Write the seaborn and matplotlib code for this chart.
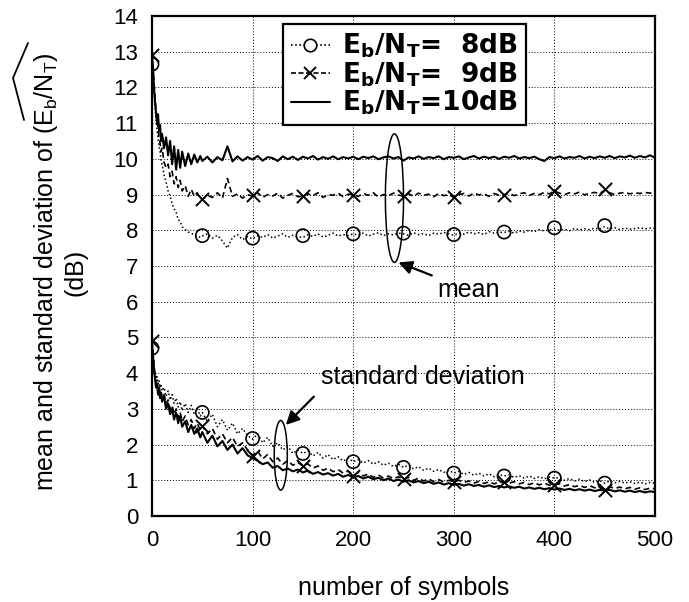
import numpy as np
import pandas as pd
import matplotlib
matplotlib.use("Agg")
import matplotlib.pyplot as plt
from matplotlib.lines import Line2D
from matplotlib.patches import Ellipse
import seaborn as sns

# ---------------- data ----------------
X_EARLY = [0, 1, 2, 3, 4, 5, 6, 7, 8, 9, 10, 12, 14, 16, 18, 20, 22, 24, 26, 28,
           30, 33, 36, 39, 42, 45, 48]
X_LATE = list(range(50, 501, 5))
SYMBOLS = X_EARLY + X_LATE

MEAN_10 = [12.85, 12.6, 12.0, 11.6, 11.3, 11.0, 11.25, 10.8, 10.95, 10.5, 10.7, 10.3, 10.6, 10.1,
           10.5, 9.85, 10.35, 9.7, 10.25, 9.75, 10.2, 9.8, 10.15, 9.85, 10.12, 9.9, 10.08,
           9.94, 10.06, 9.9, 10.05, 9.96, 10.35, 9.93, 10.07, 9.95, 10.05,
           9.98, 10.08, 9.95, 10.05, 10.02, 9.94, 10.07, 9.99, 10.06, 9.97,
           10.06, 10.01, 10.08, 9.98, 10.05, 10.0, 10.07, 9.99, 10.05, 10.01,
           10.06, 9.99, 10.06, 10.02, 10.07, 9.99, 10.04, 10.07, 10.01, 10.05,
           9.95, 10.04, 10.01, 10.07, 10.0, 10.05, 10.02, 10.07, 9.99, 10.05,
           10.03, 10.07, 9.99, 10.04, 10.08, 10.01, 10.06, 10.02, 10.06, 10.0,
           10.06, 10.03, 10.08, 10.01, 10.05, 10.02, 10.06, 9.99, 9.94, 10.05,
           10.02, 10.07, 10.01, 10.05, 10.03, 10.08, 10.01, 10.06, 10.02, 10.07,
           10.03, 10.08, 10.02, 10.07, 10.04, 10.09, 10.03, 10.08, 10.04, 10.1,
           10.03]

MEAN_9 = [12.9, 12.5, 12.1, 11.7, 11.35, 11.1, 10.85, 10.6, 10.45, 10.2, 10.3, 9.9, 9.75, 9.85,
          9.5, 9.65, 9.3, 9.5, 9.2, 9.4, 9.1, 9.25, 8.95, 9.15, 8.95, 9.05, 8.88,
          8.85, 8.98, 8.92, 9.05, 8.9, 9.45, 8.95, 9.02, 8.9, 9.0,
          8.95, 9.05, 8.92, 9.0, 8.96, 9.04, 8.9, 8.98, 9.03, 8.94,
          8.95, 9.02, 8.97, 9.05, 8.92, 9.0, 8.98, 9.04, 8.94, 9.01,
          9.0, 8.95, 9.03, 8.98, 9.05, 8.93, 9.0, 8.97, 9.04, 8.99,
          8.95, 9.02, 8.96, 9.04, 8.98, 9.01, 8.94, 9.03, 8.97, 9.0,
          8.92, 9.0, 9.03, 8.96, 9.04, 8.99, 9.02, 8.95, 9.03, 8.98,
          9.0, 9.04, 8.97, 9.02, 9.05, 8.98, 9.03, 9.0, 9.06, 9.02,
          9.1, 9.04, 9.0, 9.05, 9.02, 9.07, 8.99, 9.04, 9.06, 9.03,
          9.12, 9.05, 9.0, 9.04, 9.06, 9.02, 9.05, 9.03, 9.06, 9.04,
          9.05]

MEAN_8 = [12.65, 12.3, 11.9, 11.45, 11.1, 10.8, 10.6, 10.35, 10.2, 9.95, 9.85, 9.55, 9.35, 9.1,
          8.95, 8.75, 8.6, 8.5, 8.3, 8.25, 8.1, 8.02, 7.95, 7.92, 7.86, 7.84, 7.8,
          7.84, 7.9, 7.78, 7.86, 7.7, 7.5, 7.8, 7.88, 7.74, 7.82,
          7.76, 7.85, 7.8, 7.88, 7.78, 7.84, 7.9, 7.8, 7.86, 7.82,
          7.8, 7.87, 7.83, 7.9, 7.81, 7.86, 7.92, 7.84, 7.88, 7.85,
          7.9, 7.86, 7.92, 7.84, 7.89, 7.93, 7.85, 7.9, 7.87, 7.92,
          7.9, 7.86, 7.93, 7.88, 7.91, 7.85, 7.92, 7.89, 7.94, 7.9,
          7.86, 7.92, 7.89, 7.95, 7.9, 7.93, 7.88, 7.96, 7.92, 7.94,
          7.94, 7.97, 7.92, 7.98, 7.95, 8.0, 7.96, 8.02, 7.98, 8.01,
          8.04, 8.0, 8.03, 7.99, 8.05, 8.01, 8.04, 8.02, 8.06, 8.03,
          8.1, 8.04, 8.07, 8.02, 8.06, 8.03, 8.05, 8.07, 8.04, 8.06,
          8.05]

STD_10 = [4.85, 4.5, 4.1, 3.85, 3.6, 3.7, 3.4, 3.55, 3.3, 3.45, 3.2, 3.35, 3.0, 3.15,
          2.85, 3.0, 2.7, 2.9, 2.6, 2.8, 2.5, 2.65, 2.35, 2.55, 2.3, 2.45, 2.2,
          2.35, 2.05, 2.25, 1.95, 2.1, 1.85, 2.0, 1.75, 1.9, 1.7,
          1.62, 1.55, 1.45, 1.5, 1.35, 1.4, 1.28, 1.33, 1.25, 1.3,
          1.22, 1.27, 1.18, 1.23, 1.16, 1.2, 1.13, 1.18, 1.1, 1.15,
          1.08, 1.12, 1.05, 1.1, 1.03, 1.07, 1.0, 1.05, 0.98, 1.02,
          0.96, 1.0, 0.94, 0.98, 0.92, 0.96, 0.9, 0.94, 0.88, 0.92,
          0.87, 0.9, 0.85, 0.89, 0.84, 0.87, 0.82, 0.86, 0.81, 0.84,
          0.8, 0.83, 0.79, 0.82, 0.77, 0.8, 0.76, 0.79, 0.75, 0.78,
          0.74, 0.77, 0.73, 0.76, 0.72, 0.75, 0.71, 0.74, 0.7, 0.73,
          0.71, 0.73, 0.69, 0.72, 0.68, 0.71, 0.67, 0.7, 0.66, 0.69,
          0.67]

STD_9 = [4.9, 4.6, 4.2, 3.95, 3.75, 3.8, 3.55, 3.65, 3.45, 3.5, 3.3, 3.4, 3.15, 3.25,
         3.0, 3.1, 2.85, 3.0, 2.75, 2.9, 2.65, 2.8, 2.55, 2.7, 2.45, 2.6, 2.4,
         2.52, 2.3, 2.45, 2.15, 2.3, 2.05, 2.2, 1.95, 2.05, 1.85,
         1.7, 1.82, 1.6, 1.72, 1.52, 1.62, 1.45, 1.55, 1.42, 1.5,
         1.4, 1.46, 1.34, 1.4, 1.28, 1.34, 1.24, 1.3, 1.2, 1.26,
         1.14, 1.22, 1.12, 1.18, 1.08, 1.15, 1.06, 1.12, 1.04, 1.1,
         1.03, 1.08, 1.0, 1.06, 0.98, 1.04, 0.96, 1.02, 0.95, 1.0,
         0.96, 1.0, 0.94, 0.98, 0.92, 0.97, 0.91, 0.96, 0.9, 0.95,
         0.95, 0.92, 0.96, 0.9, 0.94, 0.88, 0.93, 0.87, 0.92, 0.86,
         0.87, 0.9, 0.84, 0.88, 0.82, 0.86, 0.8, 0.85, 0.79, 0.83,
         0.75, 0.82, 0.77, 0.81, 0.76, 0.8, 0.75, 0.79, 0.74, 0.78,
         0.76]

STD_8 = [4.7, 4.5, 4.25, 4.0, 3.85, 3.9, 3.7, 3.8, 3.6, 3.7, 3.5, 3.6, 3.35, 3.5,
         3.25, 3.4, 3.15, 3.3, 3.05, 3.2, 2.95, 3.15, 2.9, 3.1, 2.85, 3.0, 2.8,
         2.9, 2.65, 2.85, 2.5, 2.7, 2.4, 2.6, 2.3, 2.45, 2.25,
         2.15, 2.3, 2.05, 2.2, 1.95, 2.05, 1.85, 1.95, 1.75, 1.85,
         1.75, 1.82, 1.68, 1.78, 1.62, 1.72, 1.58, 1.66, 1.54, 1.62,
         1.52, 1.58, 1.48, 1.55, 1.45, 1.52, 1.42, 1.48, 1.38, 1.45,
         1.36, 1.42, 1.32, 1.38, 1.28, 1.34, 1.25, 1.3, 1.22, 1.28,
         1.2, 1.25, 1.16, 1.22, 1.14, 1.2, 1.12, 1.18, 1.1, 1.16,
         1.12, 1.15, 1.08, 1.13, 1.06, 1.12, 1.05, 1.1, 1.04, 1.09,
         1.06, 1.08, 1.0, 1.05, 0.98, 1.03, 0.96, 1.01, 0.94, 0.99,
         0.92, 0.98, 0.93, 0.97, 0.92, 0.96, 0.91, 0.95, 0.9, 0.94,
         0.92]

MARK_X = [0, 50, 100, 150, 200, 250, 300, 350, 400, 450]
MARK_MEAN_8 = [12.65, 7.85, 7.78, 7.85, 7.9, 7.92, 7.88, 7.95, 8.07, 8.13]
MARK_MEAN_9 = [12.9, 8.88, 9.0, 8.97, 9.0, 8.97, 8.92, 8.98, 9.1, 9.16]
MARK_STD_8 = [4.7, 2.9, 2.17, 1.75, 1.52, 1.36, 1.2, 1.12, 1.06, 0.92]
MARK_STD_9 = [4.9, 2.52, 1.68, 1.4, 1.13, 1.03, 0.96, 0.96, 0.87, 0.73]

X_TICKS = [0, 100, 200, 300, 400, 500]
Y_TICKS = list(range(0, 15))

# ---------------- style ----------------
sns.set_style("white")
plt.rcParams["font.family"] = ["Liberation Sans", "DejaVu Sans"]
plt.rcParams["text.color"] = "black"
plt.rcParams["axes.labelcolor"] = "black"
plt.rcParams["xtick.color"] = "black"
plt.rcParams["ytick.color"] = "black"
plt.rcParams["mathtext.fontset"] = "custom"
plt.rcParams["mathtext.rm"] = "Liberation Sans"
plt.rcParams["mathtext.it"] = "Liberation Sans"
plt.rcParams["mathtext.bf"] = "DejaVu Sans:bold"
plt.rcParams["mathtext.default"] = "regular"

fig = plt.figure(figsize=(6.89, 6.02), dpi=100)
ax = fig.add_axes([152 / 689, 1 - 516 / 602, 503 / 689, 500 / 602])

styles = {
    "8": dict(ls=(0, (1, 1.6)), lw=1.1),
    "9": dict(ls=(0, (3.5, 2.2)), lw=1.2),
    "10": dict(ls="-", lw=1.5),
}
series = [("8", MEAN_8), ("9", MEAN_9), ("10", MEAN_10),
          ("8", STD_8), ("9", STD_9), ("10", STD_10)]
for snr, vals in series:
    df = pd.DataFrame({"symbols": SYMBOLS, "value": vals})
    sns.lineplot(data=df, x="symbols", y="value", ax=ax, color="black",
                 estimator=None, sort=False, legend=False, **styles[snr])

for vals in (MARK_MEAN_8, MARK_STD_8):
    sns.scatterplot(x=MARK_X, y=vals, ax=ax, marker="o", s=90,
                    facecolor="none", edgecolor="black", linewidth=1.2, zorder=5)
for vals in (MARK_MEAN_9, MARK_STD_9):
    sns.scatterplot(x=MARK_X, y=vals, ax=ax, marker="x", s=90,
                    color="black", linewidth=1.4, zorder=5)

ax.set_xlim(0, 500)
ax.set_ylim(0, 14)
ax.set_xticks(X_TICKS)
ax.set_yticks(Y_TICKS)
ax.set_xticks(np.arange(0, 501, 20), minor=True)
ax.set_yticks(np.arange(0, 14.01, 0.2), minor=True)
ax.tick_params(which="major", direction="in", length=6, width=1, labelsize=16,
               pad=10, colors="black")
ax.tick_params(which="minor", direction="in", length=3, width=1)
ax.grid(True, which="major", color="black", linestyle=(0, (1, 2)), linewidth=0.7)
for sp in ax.spines.values():
    sp.set_color("black")
    sp.set_linewidth(1.6)

ax.set_xlabel("number of symbols", fontsize=18, labelpad=18, color="black")
ax.set_ylabel("")
fig.text(60 / 689, 1 - 272 / 602,
         "mean and standard deviation of (E$_b$/N$_T$)\n(dB)",
         rotation=90, ha="center", va="center", multialignment="center", fontsize=18,
         color="black")
hat = Line2D([28 / 689, 13 / 689, 24 / 689],
             [1 - 43 / 602, 1 - 78 / 602, 1 - 120 / 602],
             transform=fig.transFigure, color="black", lw=1.3)
fig.add_artist(hat)

# annotations
ax.add_patch(Ellipse((241, 8.9), 18, 3.6, fill=False, edgecolor="black", lw=1.1, zorder=6))
ax.add_patch(Ellipse((128, 1.7), 13, 1.95, fill=False, edgecolor="black", lw=1.1, zorder=6))
ax.annotate("mean", xy=(245, 7.1), xytext=(315, 6.33), ha="center", va="center",
            fontsize=18, color="black",
            arrowprops=dict(arrowstyle="-|>", color="black", lw=1.6, mutation_scale=20,
                            shrinkA=2, shrinkB=0))
ax.annotate("standard deviation", xy=(133, 2.55), xytext=(168, 3.88), ha="left",
            va="center", fontsize=18, color="black",
            arrowprops=dict(arrowstyle="-|>", color="black", lw=1.6, mutation_scale=20,
                            shrinkA=4, shrinkB=0, relpos=(0.0, 0.0)))

# legend
handles = [
    Line2D([], [], color="black", ls=(0, (1, 1.5)), lw=1.2, marker="o", ms=9,
           mfc="white", mec="black", mew=1.2),
    Line2D([], [], color="black", ls=(0, (3, 1.5)), lw=1.2, marker="x", ms=9, mew=1.4),
    Line2D([], [], color="black", ls="-", lw=1.5),
]
labels = [r"$\mathbf{E_b/N_T}$=  8dB", r"$\mathbf{E_b/N_T}$=  9dB",
          r"$\mathbf{E_b/N_T}$=10dB"]
leg = ax.legend(handles, labels, loc="upper left", bbox_to_anchor=(0.26, 0.984),
                prop=dict(family="DejaVu Sans", weight="bold", size=19), frameon=True,
                fancybox=False, framealpha=1, edgecolor="black", handlelength=1.5,
                handletextpad=0.45, labelspacing=0.0, borderpad=0.3, borderaxespad=0)
leg.get_frame().set_linewidth(1.6)
for t in leg.get_texts():
    t.set_color("black")

fig.savefig("out.png", dpi=100)
